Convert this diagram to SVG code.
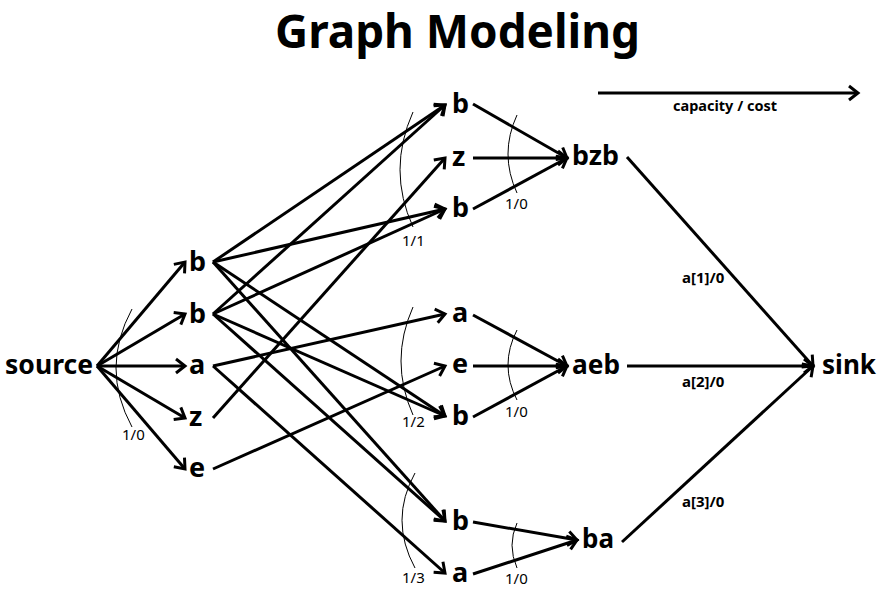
<svg xmlns="http://www.w3.org/2000/svg" width="883" height="602" viewBox="0 0 883 602">
<defs>
<style>
.t{font-family:"Noto Sans","Open Sans","Liberation Sans",sans-serif;fill:#000}
.title{font-size:46px;font-weight:bold}
.node{font-size:27px;font-weight:bold}
.lab{font-size:15px;font-weight:bold}
.cap{font-size:15px}
.e{stroke:#000;stroke-width:3;fill:none;marker-end:url(#ah)}
.arc{stroke:#000;stroke-width:1;fill:none}
</style>
<marker id="ah" markerUnits="userSpaceOnUse" markerWidth="16" markerHeight="16" refX="13" refY="8" orient="auto" overflow="visible">
<path d="M4,1 L13,8 L4,15" stroke="#000" stroke-width="3" fill="none"/>
</marker>
</defs>
<rect width="883" height="602" fill="#fff"/>
<text class="t title" x="457.5" y="48" text-anchor="middle" textLength="365" lengthAdjust="spacingAndGlyphs">Graph Modeling</text>

<g id="legend">
<line class="e" x1="598" y1="93" x2="858" y2="93"/>
<text class="t lab" x="673" y="111" textLength="104" lengthAdjust="spacingAndGlyphs">capacity / cost</text>
</g>

<g id="connectors">
<line class="e" x1="97" y1="366" x2="185" y2="262"/>
<line class="e" x1="97" y1="366" x2="185" y2="314"/>
<line class="e" x1="97" y1="366" x2="185" y2="366"/>
<line class="e" x1="97" y1="366" x2="185" y2="418"/>
<line class="e" x1="97" y1="366" x2="185" y2="469"/>

<line class="e" x1="213" y1="262" x2="445" y2="105"/>
<line class="e" x1="213" y1="262" x2="445" y2="209"/>
<line class="e" x1="213" y1="262" x2="445" y2="416"/>
<line class="e" x1="213" y1="262" x2="445" y2="521"/>
<line class="e" x1="213" y1="314" x2="445" y2="105"/>
<line class="e" x1="213" y1="314" x2="445" y2="209"/>
<line class="e" x1="213" y1="314" x2="445" y2="416"/>
<line class="e" x1="213" y1="314" x2="445" y2="521"/>
<line class="e" x1="213" y1="366" x2="445" y2="314"/>
<line class="e" x1="213" y1="366" x2="445" y2="573"/>
<line class="e" x1="213" y1="418" x2="445" y2="158"/>
<line class="e" x1="213" y1="469" x2="445" y2="366"/>

<line class="e" x1="473" y1="104" x2="567" y2="158"/>
<line class="e" x1="473" y1="158" x2="567" y2="158"/>
<line class="e" x1="473" y1="209" x2="567" y2="158"/>
<line class="e" x1="473" y1="315" x2="567" y2="366"/>
<line class="e" x1="473" y1="366" x2="567" y2="366"/>
<line class="e" x1="473" y1="417" x2="567" y2="366"/>
<line class="e" x1="473" y1="522" x2="577" y2="540"/>
<line class="e" x1="473" y1="574" x2="577" y2="540"/>

<line class="e" x1="627" y1="157" x2="813" y2="366"/>
<line class="e" x1="627" y1="366" x2="813" y2="366"/>
<line class="e" x1="622" y1="542" x2="813" y2="366"/>
</g>

<g id="annotations">
<path class="arc" d="M132,309 Q100,368 132,427"/>
<text class="t cap" x="122" y="440">1/0</text>
<path class="arc" d="M413,112 Q387,170 413,227"/>
<text class="t cap" x="402" y="246">1/1</text>
<path class="arc" d="M413,307 Q389,361 413,415"/>
<text class="t cap" x="402" y="427">1/2</text>
<path class="arc" d="M415,473 Q389,520 415,568"/>
<text class="t cap" x="402" y="583">1/3</text>
<path class="arc" d="M517,115 Q499,154 517,193"/>
<text class="t cap" x="505" y="209">1/0</text>
<path class="arc" d="M517,330 Q499,365 517,400"/>
<text class="t cap" x="505" y="417">1/0</text>
<path class="arc" d="M517,523 Q507,545 517,568"/>
<text class="t cap" x="505" y="584">1/0</text>
<text class="t lab" x="682" y="283">a[1]/0</text>
<text class="t lab" x="682" y="387">a[2]/0</text>
<text class="t lab" x="682" y="507">a[3]/0</text>
</g>

<g id="source"><text class="t node" x="5" y="374" textLength="88" lengthAdjust="spacingAndGlyphs">source</text></g>
<g id="l1-b1"><text class="t node" x="189" y="271">b</text></g>
<g id="l1-b2"><text class="t node" x="189" y="323">b</text></g>
<g id="l1-a"><text class="t node" x="189" y="374">a</text></g>
<g id="l1-z"><text class="t node" x="189" y="426">z</text></g>
<g id="l1-e"><text class="t node" x="189" y="477">e</text></g>

<g id="l2-b1"><text class="t node" x="452" y="113">b</text></g>
<g id="l2-z"><text class="t node" x="452" y="166">z</text></g>
<g id="l2-b2"><text class="t node" x="452" y="217">b</text></g>
<g id="l2-a1"><text class="t node" x="452" y="322">a</text></g>
<g id="l2-e"><text class="t node" x="452" y="373">e</text></g>
<g id="l2-b3"><text class="t node" x="452" y="425">b</text></g>
<g id="l2-b4"><text class="t node" x="452" y="530">b</text></g>
<g id="l2-a2"><text class="t node" x="452" y="582">a</text></g>

<g id="bzb"><text class="t node" x="572" y="165" textLength="47" lengthAdjust="spacingAndGlyphs">bzb</text></g>
<g id="aeb"><text class="t node" x="572" y="374" textLength="48" lengthAdjust="spacingAndGlyphs">aeb</text></g>
<g id="ba"><text class="t node" x="582" y="548" textLength="32" lengthAdjust="spacingAndGlyphs">ba</text></g>
<g id="sink"><text class="t node" x="822" y="374" textLength="54" lengthAdjust="spacingAndGlyphs">sink</text></g>
</svg>
